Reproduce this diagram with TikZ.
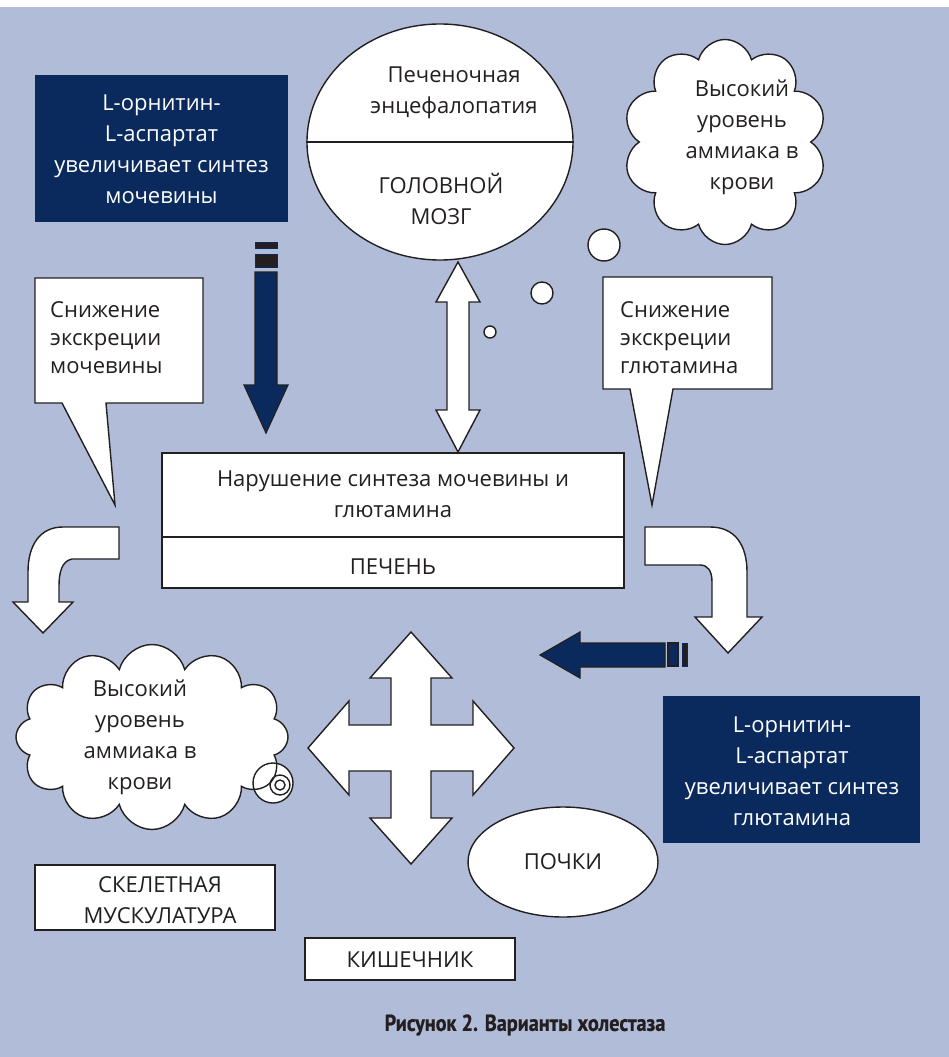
\documentclass[tikz,border=0pt]{standalone}
\usepackage{fontspec}
\setmainfont{Open Sans}
\newfontfamily\capfont{PT Sans}[BoldFeatures={FakeBold=0.9}]
\usetikzlibrary{shapes.geometric,shapes.symbols}
\definecolor{bg}{RGB}{176,188,216}
\definecolor{navy}{RGB}{10,42,94}
\definecolor{outl}{RGB}{35,31,32}
\newcommand{\bodyfont}{\fontsize{22}{31}\selectfont}
\newcommand{\callfont}{\fontsize{22}{28}\selectfont}
\tikzset{
  wshape/.style={draw=outl, fill=white, line width=1.4pt, line join=miter},
  nshape/.style={draw=outl, fill=navy, line width=1.2pt, line join=miter},
  txt/.style={text=outl, align=center, font=\bodyfont, inner sep=0pt},
  wtxt/.style={text=white, align=center, font=\bodyfont, inner sep=0pt},
  ltxt/.style={text=outl, align=left, font=\callfont, inner sep=0pt, anchor=west},
  cloudshape/.style={cloud, cloud ignores aspect, draw=outl, fill=white, line width=1.4pt, inner sep=0pt},
}
\begin{document}
\begin{tikzpicture}[x=1pt,y=-1pt]
\useasboundingbox (0,0) rectangle (949,1057);
\fill[white] (0,0) rectangle (949,7);
\fill[bg] (0,7) rectangle (949,1057);

% top-left dark box
\fill[navy] (35,75) rectangle (288,222);
\node[wtxt] (orn1) at (161.5,149) {L-орнитин-\\L-аспартат\\увеличивает синтез\\мочевины};

% navy down arrow with stripes
\filldraw[nshape, line width=0.8pt, fill=outl, draw=navy] (255,242) rectangle (277,248);
\filldraw[nshape, line width=0.8pt, fill=outl, draw=navy] (255,254) rectangle (277,267);
\filldraw[nshape] (255,272) -- (255,385) -- (244,385) -- (266,433) -- (288,385) -- (277,385) -- (277,272) -- cycle;

% brain ellipse
\node[ellipse, wshape, minimum width=266pt, minimum height=236pt, inner sep=0pt] (brain) at (440,142) {};
\draw[outl, line width=1.4pt] (brain.west) -- (brain.east);
\node[txt] (brt) at (454,93) {Печеночная\\энцефалопатия};
\node[txt] (brb) at (441,199) {ГОЛОВНОЙ\\МОЗГ};

% top-right cloud and thought bubbles
\node[cloudshape, cloud puffs=10, minimum width=204pt, minimum height=205pt] (cloud1) at (725,142) {};
\node[txt] (cl1t) at (742,137) {Высокий\\уровень\\аммиака в\\крови};
\node[circle, wshape, minimum size=32pt, inner sep=0pt] (b1) at (604,245) {};
\node[circle, wshape, minimum size=22pt, inner sep=0pt] (b2) at (542,293) {};
\node[circle, wshape, minimum size=12pt, inner sep=0pt] (b3) at (490,332) {};

% double vertical arrow
\filldraw[wshape] (458,262) -- (480,302) -- (469,302) -- (469,410) -- (480,410) -- (458,452) -- (436,410) -- (447,410) -- (447,302) -- (436,302) -- cycle;

% left callout
\filldraw[wshape] (35,278) -- (203,278) -- (203,403) -- (106,403) -- (115,505) -- (62,403) -- (35,403) -- cycle;
\node[ltxt] (c1) at (50,338) {Снижение\\экскреции\\мочевины};

% right callout
\filldraw[wshape] (603,277) -- (772,277) -- (772,389) -- (673,389) -- (652,505) -- (630,389) -- (603,389) -- cycle;
\node[ltxt] (c2) at (620,338) {Снижение\\экскреции\\глютамина};

% liver box
\filldraw[wshape] (162,453) rectangle (624,588);
\draw[outl, line width=1.4pt] (162,537) -- (624,537);
\node[txt] (liv1) at (393,494) {Нарушение синтеза мочевины и\\глютамина};
\node[txt] (liv2) at (393,567) {ПЕЧЕНЬ};

% left curved arrow
\filldraw[wshape] (63,527) -- (119,527) -- (119,559) -- (72,559) .. controls (62,561) and (59,572) .. (59,586) -- (59,602) -- (73,602) -- (43,633) -- (13,602) -- (28,602) -- (28,572) .. controls (28,545) and (40,527) .. (63,527) -- cycle;

% right curved arrow
\filldraw[wshape] (645,527) -- (710,527) .. controls (735,527) and (747,545) .. (747,572) -- (747,617) -- (762,617) -- (728,653) -- (695,617) -- (712,617) -- (712,582) .. controls (712,571) and (708,565) .. (700,565) -- (645,565) -- cycle;

% navy left arrow with stripes
\filldraw[nshape] (665,643) -- (580,643) -- (580,632) -- (540,655) -- (580,678) -- (580,667) -- (665,667) -- cycle;
\filldraw[nshape] (668,643) rectangle (678,666);
\filldraw[nshape, line width=0.8pt, fill=outl, draw=navy] (682,643) rectangle (687,666);

% right dark box
\fill[navy] (663,696) rectangle (920,843);
\node[wtxt] (orn2) at (792,771) {L-орнитин-\\L-аспартат\\увеличивает синтез\\глютамина};

% four-way arrow
\filldraw[wshape, shift={(411,748)}] (0,-116) -- (41,-70) -- (20,-70) -- (20,-23) -- (62,-23) -- (62,-47) -- (103,0) -- (62,47) -- (62,23) -- (20,23) -- (20,70) -- (41,70) -- (0,116) -- (-41,70) -- (-20,70) -- (-20,23) -- (-62,23) -- (-62,47) -- (-103,0) -- (-62,-47) -- (-62,-23) -- (-20,-23) -- (-20,-70) -- (-41,-70) -- cycle;

% left cloud with bubbles
\fill[white] (273,783) circle (20);
\node[cloudshape, cloud puffs=12, minimum width=272pt, minimum height=185pt] (cloud2) at (152,737) {};
\node[txt] (cl2t) at (140,737) {Высокий\\уровень\\аммиака в\\крови};
\node[circle, draw=outl, line width=1.4pt, minimum size=40pt, inner sep=0pt] (lb1) at (273,783) {};
\node[circle, draw=outl, line width=1.4pt, minimum size=20pt, inner sep=0pt] (lb2) at (280,785) {};
\node[circle, draw=outl, line width=1.4pt, minimum size=10pt, inner sep=0pt] (lb3) at (280,785) {};

% kidneys
\node[ellipse, wshape, minimum width=190pt, minimum height=110pt, inner sep=0pt] (kid) at (563,862) {};
\node[txt] (kidt) at (563,862) {ПОЧКИ};

% skeletal muscle
\filldraw[wshape] (35,865) rectangle (275,930);
\node[txt] (mus) at (160,900) {СКЕЛЕТНАЯ\\МУСКУЛАТУРА};

% intestine
\filldraw[wshape] (305,938) rectangle (515,980);
\node[txt] (int) at (410,960) {КИШЕЧНИК};

% caption
\node[text=outl, inner sep=0pt] (cap) at (525,1025) {\scalebox{0.88}[1]{\capfont\fontsize{23}{26}\selectfont\bfseries Рисунок 2. Варианты холестаза}};
\end{tikzpicture}
\end{document}
